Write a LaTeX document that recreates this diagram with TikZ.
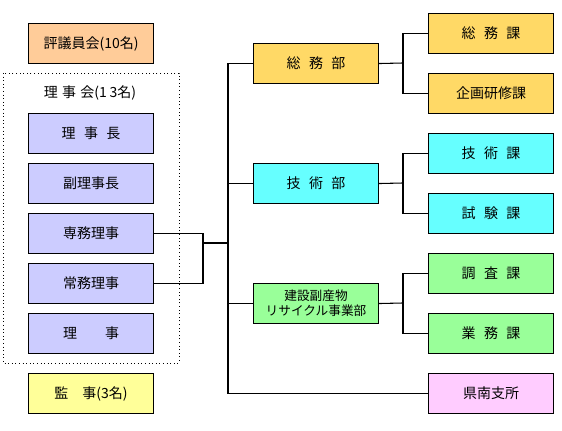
\documentclass[tikz,border=0pt]{standalone}
\usepackage{fontspec}
\setmainfont{Noto Sans CJK JP}
\definecolor{cOrange}{HTML}{FFCC99}
\definecolor{cLav}{HTML}{CCCCFF}
\definecolor{cYel}{HTML}{FFFF99}
\definecolor{cGold}{HTML}{FFD966}
\definecolor{cCyan}{HTML}{66FFFF}
\definecolor{cGreen}{HTML}{99FF99}
\definecolor{cPink}{HTML}{FFCCFF}
\newcommand{\gp}[1]{\hspace{#1em}}
\begin{document}
\begin{tikzpicture}[x=0.75pt,y=-0.75pt,
  box/.style={draw=black,line width=0.8pt,minimum width=93.75pt,minimum height=30pt,inner sep=0pt,font=\fontsize{10.5}{12}\selectfont,anchor=north west},
  conn/.style={draw=black,line width=0.8pt,line join=miter}]
\useasboundingbox (0,0) rectangle (562,431);
% dotted frame
\draw[dotted,line width=0.7pt] (3,73) rectangle (179,363);
\node[font=\fontsize{10.5}{12}\selectfont] (rjk) at (90,93) {理\gp{0.3}事\gp{0.3}会(1\gp{0.2}3名)};
% left column
\node[box,fill=cOrange] (hyo) at (28,23) {評議員会(10名)};
\node[box,fill=cLav] (rjc) at (28,113) {理\gp{0.6}事\gp{0.6}長};
\node[box,fill=cLav] (frj) at (28,163) {副理事長};
\node[box,fill=cLav] (smr) at (28,213) {専務理事};
\node[box,fill=cLav] (jmr) at (28,263) {常務理事};
\node[box,fill=cLav] (rj) at (28,313) {理\gp{2}事};
\node[box,fill=cYel] (kan) at (28,373) {監\gp{1}事(3名)};
% departments
\node[box,fill=cGold] (som) at (253,43) {総\gp{0.6}務\gp{0.6}部};
\node[box,fill=cCyan] (gij) at (253,163) {技\gp{0.6}術\gp{0.6}部};
\node[box,fill=cGreen,align=center,font=\fontsize{9.5}{11.5}\selectfont] (ken) at (253,283) {建設副産物\\リサイクル事業部};
% sections
\node[box,fill=cGold] (somk) at (428,13) {総\gp{0.6}務\gp{0.6}課};
\node[box,fill=cGold] (kik) at (428,73) {企画研修課};
\node[box,fill=cCyan] (gijk) at (428,133) {技\gp{0.6}術\gp{0.6}課};
\node[box,fill=cCyan] (shi) at (428,193) {試\gp{0.6}験\gp{0.6}課};
\node[box,fill=cGreen] (cho) at (428,253) {調\gp{0.6}査\gp{0.6}課};
\node[box,fill=cGreen] (gyo) at (428,313) {業\gp{0.6}務\gp{0.6}課};
\node[box,fill=cPink] (kno) at (428,373) {県南支所};
% coordinates
\coordinate (j1) at (203,243);
\coordinate (tr) at (228,243);
% executive bracket
\draw[conn] (smr.east) -| (j1) |- (jmr.east);
\draw[conn] (j1) -- (tr);
% trunk
\draw[conn] (som.west) -| (tr);
\draw[conn] (kno.west) -| (tr);
\draw[conn] (gij.west) -- (gij.west -| tr);
\draw[conn] (ken.west) -- (ken.west -| tr);
% branches
\coordinate (b1) at (403,63);
\coordinate (b2) at (403,183);
\coordinate (b3) at (403,303);
\draw[conn] (som.east) -- (b1);
\draw[conn] (somk.west) -| (b1) |- (kik.west);
\draw[conn] (gij.east) -- (b2);
\draw[conn] (gijk.west) -| (b2) |- (shi.west);
\draw[conn] (ken.east) -- (b3);
\draw[conn] (cho.west) -| (b3) |- (gyo.west);
\end{tikzpicture}
\end{document}
